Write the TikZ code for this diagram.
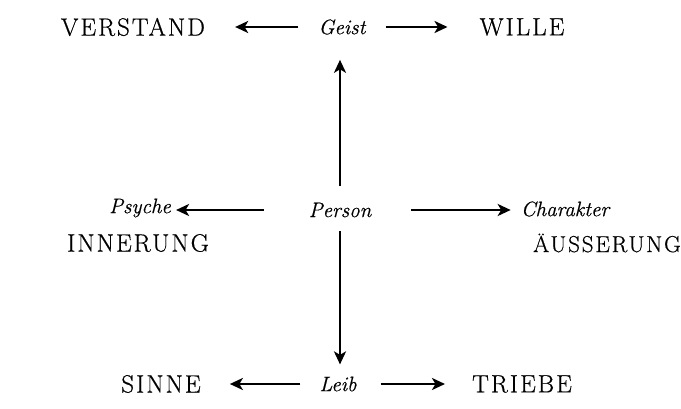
\documentclass[tikz,border=0pt]{standalone}
\usepackage{fontspec}
\usepackage{tikz}
\usetikzlibrary{arrows.meta, positioning}
\newfontfamily\spacedcaps[LetterSpace=8,FakeBold=0.6]{Latin Modern Roman}
\newfontfamily\slantit[FakeBold=0.5]{Latin Modern Roman}

\tikzset{
	caps/.style={font=\spacedcaps\fontsize{25}{28}\selectfont, inner sep=0pt},
	ital/.style={font=\slantit\itshape\fontsize{21}{24}\selectfont, inner sep=0pt},
	arr/.style={-{Stealth[length=13pt,width=12pt,inset=3.5pt]}, line width=2.4pt}
}

\begin{document}
\begin{tikzpicture}[x=1pt,y=1pt]
					\useasboundingbox (0,0) rectangle (681,408);
					% top row
					\node[ital] (geist) at (342,381) {Geist};
					\node[caps] (verstand) at (133,381) {VERSTAND};
					\node[caps] (wille) at (522,381) {WILLE};
					% middle
					\node[ital] (person) at (340,198) {Person};
					\node[ital] (psyche) at (140,200) {Psyche};
					\node[ital] (charakter) at (565,199) {Charakter};
					\node[caps] (innerung) at (138,165) {INNERUNG};
					\node[caps, font=\spacedcaps\fontsize{23}{28}\selectfont, anchor=east] (aeusserung) at (681,165) {ÄUSSERUNG};
					% bottom row
					\node[ital] (leib) at (338,24) {Leib};
					\node[caps] (sinne) at (161,24) {SINNE};
					\node[caps] (triebe) at (522,24) {TRIEBE};
					% arrows
					\draw[arr, shorten <=20pt, shorten >=30pt] (geist.west) to (geist.west -| verstand.east);
					\draw[arr, shorten <=20pt, shorten >=32pt] (geist.east) to (geist.east -| wille.west);
					\draw[arr, shorten <=17pt, shorten >=25pt] (person.north) to (person.north |- geist.south);
					\draw[arr, shorten <=14pt, shorten >=12pt] (person.south) to (person.south |- leib.north);
					\draw[arr, shorten <=45pt, shorten >=5pt] (person.west) to (person.west -| psyche.east);
					\draw[arr, shorten <=40pt, shorten >=10pt] (person.east) to (person.east -| charakter.west);
					\draw[arr, shorten <=19pt, shorten >=29pt] (leib.west) to (leib.west -| sinne.east);
					\draw[arr, shorten <=24pt, shorten >=27pt] (leib.east) to (leib.east -| triebe.west);
				\end{tikzpicture}
\end{document}
